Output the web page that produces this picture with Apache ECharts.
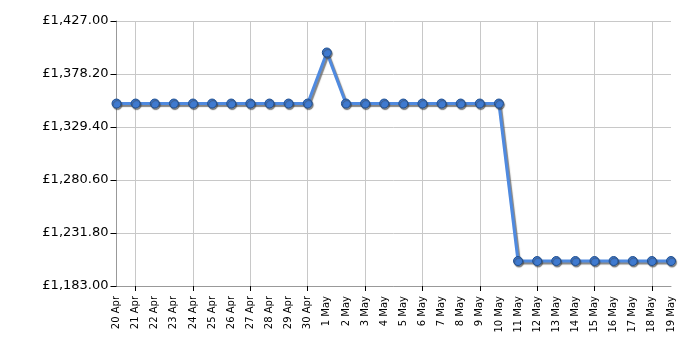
<!DOCTYPE html>
<html><head><meta charset="utf-8">
<script src="https://cdn.jsdelivr.net/npm/echarts@6/dist/echarts.min.js"></script>
<style>html,body{margin:0;padding:0;background:#fff}#c{width:700px;height:350px}</style>
</head><body><div id="c"></div>
<script>
const categories = ["20 Apr","21 Apr","22 Apr","23 Apr","24 Apr","25 Apr","26 Apr","27 Apr","28 Apr","29 Apr","30 Apr","1 May","2 May","3 May","4 May","5 May","6 May","7 May","8 May","9 May","10 May","11 May","12 May","13 May","14 May","15 May","16 May","17 May","18 May","19 May"];
const prices = [1351,1351,1351,1351,1351,1351,1351,1351,1351,1351,1351,1398,1351,1351,1351,1351,1351,1351,1351,1351,1351,1206,1206,1206,1206,1206,1206,1206,1206,1206];
const yMin = 1183, yMax = 1427, yStep = 48.8;

const chart = echarts.init(document.getElementById('c'));
const every3 = (i) => i % 3 === 1;
chart.setOption({
  animation: false,
  grid: {left: 116.5, right: 29, top: 21, bottom: 64},
  xAxis: {
    type: 'category', data: categories, boundaryGap: false,
    axisLine: {lineStyle: {color: '#999', width: 1}},
    axisTick: {show: true, interval: every3, length: 5, lineStyle: {color: '#000'}},
    axisLabel: {interval: 0, rotate: 90, fontFamily: 'DejaVu Sans', fontSize: 10, color: '#000', margin: 10},
    splitLine: {show: true, interval: every3, lineStyle: {color: '#c8c8c8', width: 1}}
  },
  yAxis: {
    type: 'value', min: yMin, max: yMax, interval: yStep,
    axisLine: {show: true, lineStyle: {color: '#999', width: 1}},
    axisTick: {show: true, length: 6, inside: false, lineStyle: {color: '#000'}},
    axisLabel: {fontFamily: 'DejaVu Sans', fontSize: 13, color: '#000', margin: 8,
      formatter: v => '£' + v.toLocaleString('en-GB', {minimumFractionDigits: 2, maximumFractionDigits: 2})},
    splitLine: {show: true, lineStyle: {color: '#c8c8c8', width: 1}}
  },
  series: [{
    type: 'line', data: prices, symbol: 'circle', symbolSize: 9,
    lineStyle: {color: '#4f8ae0', width: 3, shadowColor: 'rgba(80,80,80,0.7)', shadowOffsetX: 1.5, shadowOffsetY: 2, shadowBlur: 1},
    itemStyle: {color: '#3f7ad0', borderColor: '#1f4f90', borderWidth: 1, shadowColor: 'rgba(60,60,60,0.6)', shadowOffsetX: 1, shadowOffsetY: 1.5, shadowBlur: 1}
  }]
});
</script></body></html>
